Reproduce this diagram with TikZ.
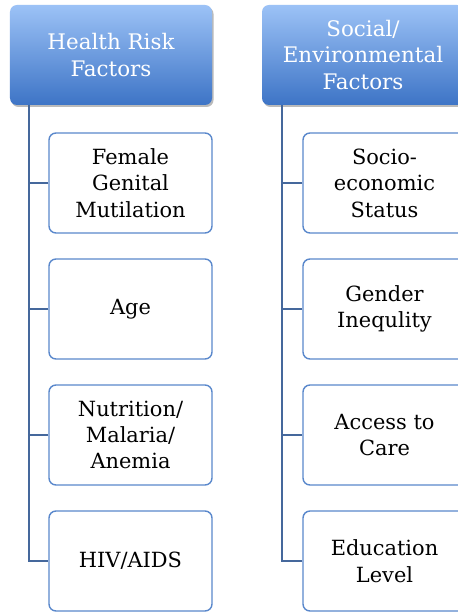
\documentclass[tikz,border=0pt]{standalone}
\usepackage{fontspec}
\setmainfont{DejaVu Serif}
\usetikzlibrary{shadows}
\definecolor{hdtop}{HTML}{9CC2F6}
\definecolor{hdbot}{HTML}{3D74C6}
\definecolor{boxline}{HTML}{5A88CC}
\definecolor{connline}{HTML}{45689C}
\tikzset{
  header/.style={draw=none, rounded corners=7bp, top color=hdtop, bottom color=hdbot,
    minimum width=202bp, minimum height=100bp, text=white, align=center,
    font=\fontsize{21.5}{26.5}\selectfont, inner sep=0pt,
    drop shadow={shadow xshift=1.5bp, shadow yshift=-2bp, fill=black!45, opacity=0.6}},
  child/.style={draw=boxline, line width=1.4bp, rounded corners=7bp, fill=white,
    minimum width=163bp, minimum height=100bp, align=center,
    font=\fontsize{21}{26.5}\selectfont, inner sep=0pt},
  conn/.style={draw=connline, line width=1.4bp}
}
\begin{document}
\begin{tikzpicture}[x=1bp,y=-1bp]
\useasboundingbox (0,0) rectangle (458,612);
\clip (0,0) rectangle (458,612);
\fill[white] (0,0) rectangle (458,612);
% headers
\node[header] (h1) at (111,55) {Health Risk\\Factors};
\node[header] (h2) at (363,55) {Social/\\Environmental\\Factors};
% left children
\node[child] (l1) at (130.5,183) {Female\\Genital\\Mutilation};
\node[child] (l2) at (130.5,309) {Age};
\node[child] (l3) at (130.5,435) {Nutrition/\\Malaria/\\Anemia};
\node[child] (l4) at (130.5,561) {HIV/AIDS};
% right children
\node[child] (r1) at (384.5,183) {Socio-\\economic\\Status};
\node[child] (r2) at (384.5,309) {Gender\\Inequlity};
\node[child] (r3) at (384.5,435) {Access to\\Care};
\node[child] (r4) at (384.5,561) {Education\\Level};
% connectors
\coordinate (lb) at (29,0);
\coordinate (rb) at (282,0);
\draw[conn] (h1.south -| lb) |- (l4.west);
\draw[conn] (l1.west) -- (l1.west -| lb);
\draw[conn] (l2.west) -- (l2.west -| lb);
\draw[conn] (l3.west) -- (l3.west -| lb);
\draw[conn] (h2.south -| rb) |- (r4.west);
\draw[conn] (r1.west) -- (r1.west -| rb);
\draw[conn] (r2.west) -- (r2.west -| rb);
\draw[conn] (r3.west) -- (r3.west -| rb);
\end{tikzpicture}
\end{document}
